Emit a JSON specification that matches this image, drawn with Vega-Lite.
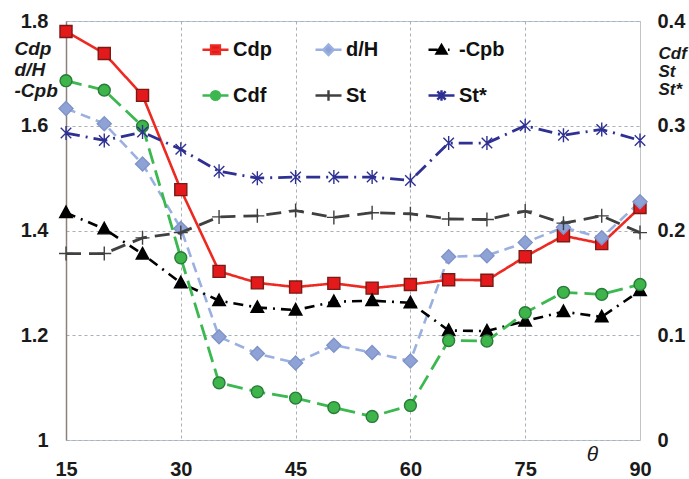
{
  "$schema": "https://vega.github.io/schema/vega-lite/v6.json",
  "width": 574,
  "height": 419,
  "autosize": "none",
  "padding": {"left": 66, "top": 21, "right": 49, "bottom": 39},
  "background": "white",
  "config": {
    "view": {"stroke": "#b4c8dc", "strokeWidth": 1},
    "font": "Liberation Sans",
    "axis": {
      "labelFont": "Liberation Sans",
      "labelFontWeight": "bold",
      "labelFontSize": 20,
      "labelColor": "#1a1a1a",
      "titleFont": "Liberation Sans",
      "titleColor": "#1a1a1a",
      "ticks": false,
      "gridDash": [3, 3],
      "gridColor": "#a9b0b8",
      "gridWidth": 1
    },
    "legend": {
      "labelFont": "Liberation Sans",
      "labelFontWeight": "bold",
      "labelFontSize": 20,
      "labelColor": "#111111"
    }
  },
  "data": {
    "values": [
      {"theta": 15, "Cdp": 1.78, "d/H": 1.633, "-Cpb": 1.434, "Cdf": 0.343, "St": 0.178, "St*": 0.293},
      {"theta": 20, "Cdp": 1.738, "d/H": 1.604, "-Cpb": 1.403, "Cdf": 0.334, "St": 0.178, "St*": 0.286},
      {"theta": 25, "Cdp": 1.658, "d/H": 1.527, "-Cpb": 1.355, "Cdf": 0.2995, "St": 0.193, "St*": 0.294},
      {"theta": 30, "Cdp": 1.478, "d/H": 1.404, "-Cpb": 1.3, "Cdf": 0.174, "St": 0.198, "St*": 0.2775},
      {"theta": 35, "Cdp": 1.322, "d/H": 1.197, "-Cpb": 1.266, "Cdf": 0.0546, "St": 0.213, "St*": 0.2565},
      {"theta": 40, "Cdp": 1.3, "d/H": 1.165, "-Cpb": 1.253, "Cdf": 0.046, "St": 0.214, "St*": 0.25},
      {"theta": 45, "Cdp": 1.292, "d/H": 1.147, "-Cpb": 1.248, "Cdf": 0.04, "St": 0.219, "St*": 0.251},
      {"theta": 50, "Cdp": 1.299, "d/H": 1.181, "-Cpb": 1.264, "Cdf": 0.031, "St": 0.2125, "St*": 0.251},
      {"theta": 55, "Cdp": 1.29, "d/H": 1.167, "-Cpb": 1.266, "Cdf": 0.0225, "St": 0.217, "St*": 0.251},
      {"theta": 60, "Cdp": 1.297, "d/H": 1.151, "-Cpb": 1.262, "Cdf": 0.033, "St": 0.216, "St*": 0.2477},
      {"theta": 65, "Cdp": 1.306, "d/H": 1.35, "-Cpb": 1.209, "Cdf": 0.095, "St": 0.211, "St*": 0.2835},
      {"theta": 70, "Cdp": 1.305, "d/H": 1.352, "-Cpb": 1.208, "Cdf": 0.0945, "St": 0.2105, "St*": 0.2835},
      {"theta": 75, "Cdp": 1.35, "d/H": 1.377, "-Cpb": 1.227, "Cdf": 0.1215, "St": 0.2185, "St*": 0.3},
      {"theta": 80, "Cdp": 1.39, "d/H": 1.406, "-Cpb": 1.245, "Cdf": 0.141, "St": 0.207, "St*": 0.291},
      {"theta": 85, "Cdp": 1.375, "d/H": 1.386, "-Cpb": 1.235, "Cdf": 0.139, "St": 0.214, "St*": 0.2965},
      {"theta": 90, "Cdp": 1.444, "d/H": 1.455, "-Cpb": 1.285, "Cdf": 0.1485, "St": 0.198, "St*": 0.286}
    ]
  },
  "transform": [
    {"fold": ["Cdp", "d/H", "-Cpb", "Cdf", "St", "St*"], "as": ["series", "value"]}
  ],
  "encoding": {
    "x": {
      "field": "theta",
      "type": "quantitative",
      "scale": {"domain": [15, 90], "nice": false, "zero": false},
      "axis": {
        "values": [15, 30, 45, 60, 75, 90],
        "grid": true,
        "domain": false,
        "labelPadding": 19,
        "labelFlush": false,
        "title": "θ",
        "titleFontStyle": "italic",
        "titleFontWeight": "normal",
        "titleFontSize": 21,
        "titleX": 526,
        "titleY": 14,
        "titleAlign": "center",
        "titleBaseline": "middle"
      }
    }
  },
  "layer": [
    {
      "transform": [{"filter": {"field": "series", "oneOf": ["Cdp", "d/H", "-Cpb"]}}],
      "encoding": {
        "y": {
          "field": "value",
          "type": "quantitative",
          "scale": {"domain": [1, 1.8], "nice": false, "zero": false},
          "axis": {
            "orient": "left",
            "values": [1, 1.2, 1.4, 1.6, 1.8],
            "format": "~g",
            "grid": true,
            "domain": true,
            "domainColor": "#8c807a",
            "domainWidth": 1.5,
            "labelPadding": 18,
            "labelFlush": false,
            "title": ["Cdp", "d/H", "-Cpb"],
            "titleAngle": 0,
            "titleAlign": "left",
            "titleBaseline": "top",
            "titleX": -52,
            "titleY": 18,
            "titleFontSize": 19,
            "titleFontStyle": "italic",
            "titleFontWeight": "bold",
            "titleLineHeight": 21
          }
        }
      },
      "layer": [
        {
          "mark": {"type": "line", "strokeWidth": 2.6},
          "encoding": {
            "color": {
              "field": "series",
              "type": "nominal",
              "scale": {
                "domain": ["Cdp", "d/H", "-Cpb", "Cdf", "St", "St*"],
                "range": ["#ec2a22", "#9ab0e0", "#000000", "#3cb850", "#404040", "#2e3192"]
              },
              "legend": {
                "orient": "none",
                "direction": "horizontal",
                "legendX": 135,
                "legendY": 14,
                "title": null,
                "columns": 3,
                "columnPadding": 31,
                "rowPadding": 21,
                "gridAlign": "all",
                "padding": 0,
                "symbolSize": 676,
                "symbolStrokeWidth": 2.4,
                "labelOffset": 3,
                "encode": {
                  "symbols": {
                    "update": {
                      "shape": {"signal": "datum.value === 'Cdp' ? 'M-1,0H1M-0.34,-0.34H0.34V0.34H-0.34Z' : datum.value === 'd/H' ? 'M-1,0H-0.45M-0.4,0L0,-0.4L0.4,0L0,0.4ZM0.45,0H1' : datum.value === '-Cpb' ? 'M-1,0H-0.3M0,-0.36L0.38,0.3L-0.38,0.3ZM0.5,0H0.62' : datum.value === 'Cdf' ? 'M-1,0H1M0.34,0A0.34,0.34,0,1,1,-0.34,0A0.34,0.34,0,1,1,0.34,0Z' : datum.value === 'St' ? 'M-1,0H1M0,-0.4V0.4' : 'M-1,0H1M0,-0.4V0.4M-0.32,-0.32L0.32,0.32M-0.32,0.32L0.32,-0.32'"},
                      "fill": {"signal": "datum.value === 'Cdp' ? '#e3191c' : datum.value === 'd/H' ? '#8ea2d6' : datum.value === '-Cpb' ? '#000000' : datum.value === 'Cdf' ? '#3db54a' : datum.value === 'St' ? '#404040' : '#2e3192'"},
                      "stroke": {"signal": "datum.value === 'Cdp' ? '#ec2a22' : datum.value === 'd/H' ? '#9ab0e0' : datum.value === '-Cpb' ? '#000000' : datum.value === 'Cdf' ? '#3cb850' : datum.value === 'St' ? '#404040' : '#2e3192'"},
                      "strokeWidth": {"value": 2.4},
                      "size": {"value": 676},
                      "opacity": {"value": 1}
                    }
                  }
                }
              }
            },
            "strokeDash": {
              "field": "series",
              "type": "nominal",
              "scale": {
                "domain": ["Cdf", "St", "St*", "Cdp", "d/H", "-Cpb"],
                "range": [[16, 7], [15, 8], [14, 6, 2, 6], [1, 0], [10, 6], [10, 6, 2, 6]]
              },
              "legend": null
            }
          }
        },
        {
          "mark": {"type": "point", "opacity": 1, "strokeWidth": 1.4, "size": 196},
          "encoding": {
            "shape": {
              "field": "series",
              "type": "nominal",
              "scale": {
                "domain": ["Cdf", "St", "St*", "Cdp", "d/H", "-Cpb"],
                "range": ["M0.85,0A0.85,0.85,0,1,1,-0.85,0A0.85,0.85,0,1,1,0.85,0Z", "M-1,0H1M0,-1V1", "M-0.75,-0.75L0.75,0.75M-0.75,0.75L0.75,-0.75M0,-1V1", "M-0.86,-0.86H0.86V0.86H-0.86Z", "M0,-1L1,0L0,1L-1,0Z", "M0,-0.95L0.9,0.7L-0.9,0.7Z"]
              },
              "legend": null
            },
            "fill": {
              "field": "series",
              "type": "nominal",
              "scale": {
                "domain": ["Cdf", "St", "St*", "Cdp", "d/H", "-Cpb"],
                "range": ["#3db54a", "#404040", "#2e3192", "#e3191c", "#8ea2d6", "#000000"]
              },
              "legend": null
            },
            "stroke": {
              "field": "series",
              "type": "nominal",
              "scale": {
                "domain": ["Cdf", "St", "St*", "Cdp", "d/H", "-Cpb"],
                "range": ["#2a7a3a", "#404040", "#2e3192", "#7a1a14", "#7f93c8", "#000000"]
              },
              "legend": null
            }
          }
        }
      ]
    },
    {
      "transform": [{"filter": {"field": "series", "oneOf": ["Cdf", "St", "St*"]}}],
      "encoding": {
        "y": {
          "field": "value",
          "type": "quantitative",
          "scale": {"domain": [0, 0.4], "nice": false, "zero": false},
          "axis": {
            "orient": "right",
            "values": [0, 0.1, 0.2, 0.3, 0.4],
            "format": "~g",
            "grid": false,
            "domain": true,
            "domainColor": "#c4c4c4",
            "domainWidth": 1,
            "labelPadding": 17,
            "labelFlush": false,
            "title": ["Cdf", "St", "St*"],
            "titleAngle": 0,
            "titleAlign": "left",
            "titleBaseline": "top",
            "titleX": 18,
            "titleY": 24,
            "titleFontSize": 17,
            "titleFontStyle": "italic",
            "titleFontWeight": "bold",
            "titleLineHeight": 18
          }
        }
      },
      "layer": [
        {
          "mark": {"type": "line", "strokeWidth": 2.8},
          "encoding": {
            "color": {"field": "series", "type": "nominal"},
            "strokeDash": {"field": "series", "type": "nominal", "legend": null}
          }
        },
        {
          "mark": {"type": "point", "opacity": 1, "strokeWidth": 1.4, "size": 196},
          "encoding": {
            "shape": {"field": "series", "type": "nominal", "legend": null},
            "fill": {"field": "series", "type": "nominal", "legend": null},
            "stroke": {"field": "series", "type": "nominal", "legend": null}
          }
        }
      ]
    }
  ],
  "resolve": {"scale": {"y": "independent"}}
}
